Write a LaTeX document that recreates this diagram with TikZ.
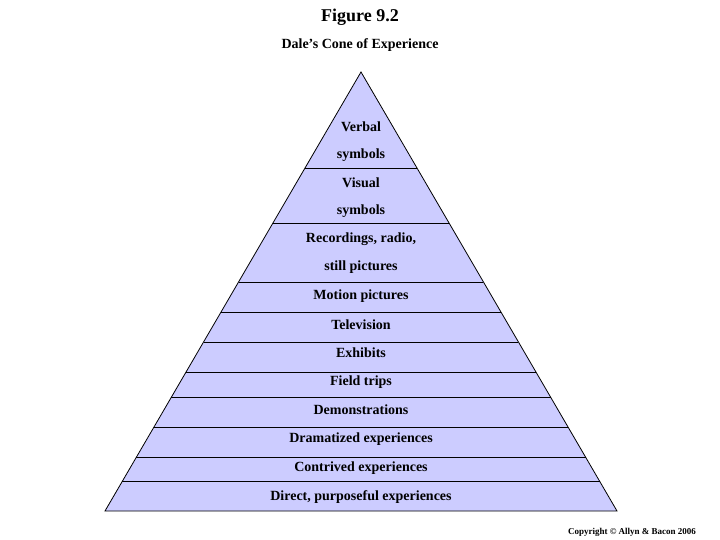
\documentclass[tikz,border=0pt]{standalone}
\usepackage{fontspec}
\setmainfont{Liberation Serif}
\begin{document}
\begin{tikzpicture}[x=1pt,y=-1pt,
  lbl/.style={font=\bfseries\fontsize{14}{16}\selectfont, inner sep=0pt},
  band/.style={draw=black, line width=0.8pt}]
\useasboundingbox (0,0) rectangle (720,540);
\coordinate (apex) at (361,72);
\coordinate (bl) at (105,511);
\coordinate (br) at (617,511);
\fill[fill={rgb,255:red,204;green,204;blue,255}] (apex) -- (bl) -- (br) -- cycle;
\draw[band] (bl) -- (apex) -- (br) -- cycle;
\foreach \yy in {168,223,282,312,342,372,397,427,457,481}{
  \pgfmathsetmacro{\hw}{(\yy-72)/439*256}
  \draw[band] (361-\hw,\yy) -- (361+\hw,\yy);
}
\node[font=\bfseries\fontsize{18}{20}\selectfont] (t1) at (360,17) {Figure 9.2};
\node[font=\bfseries\fontsize{14}{16}\selectfont] (t2) at (360,45) {Dale’s Cone of Experience};
\node[lbl] (a1) at (361,127) {Verbal};
\node[lbl] (a2) at (361,155) {symbols};
\node[lbl] (a3) at (361,183) {Visual};
\node[lbl] (a4) at (361,211) {symbols};
\node[lbl] (a5) at (361,239) {Recordings, radio,};
\node[lbl] (a6) at (361,267) {still pictures};
\node[lbl] (a7) at (361,296) {Motion pictures};
\node[lbl] (a8) at (361,325) {Television};
\node[lbl] (a9) at (361,353) {Exhibits};
\node[lbl] (a10) at (361,382) {Field trips};
\node[lbl] (a11) at (361,410) {Demonstrations};
\node[lbl] (a12) at (361,439) {Dramatized experiences};
\node[lbl] (a13) at (361,468) {Contrived experiences};
\node[lbl] (a14) at (361,497) {Direct, purposeful experiences};
\node[font=\bfseries\fontsize{9}{10}\selectfont, inner sep=0pt] (cp) at (632,532) {Copyright © Allyn \& Bacon 2006};
\end{tikzpicture}
\end{document}
